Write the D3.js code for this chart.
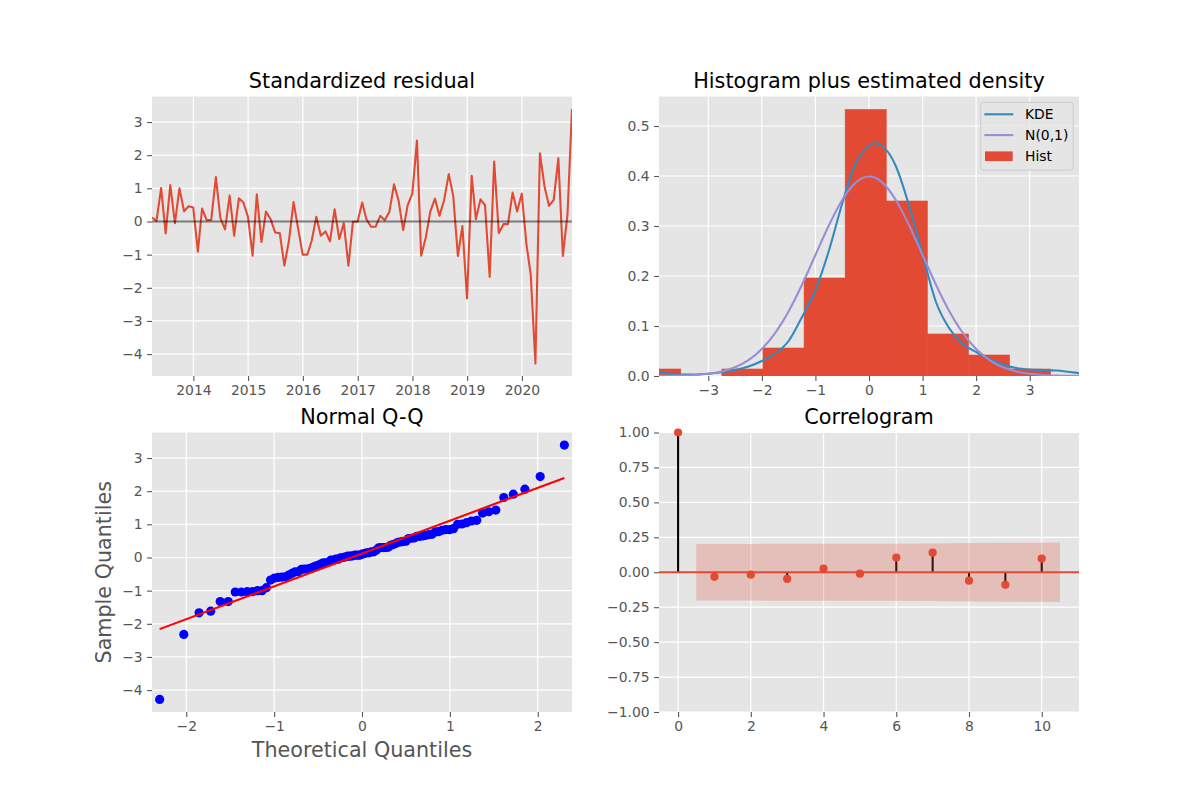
<!DOCTYPE html>
<html lang="en">
<head>
<meta charset="UTF-8" />
<title>Model diagnostics</title>
<script src="https://d3js.org/d3.v7.min.js"></script>
<style>
  body { margin: 0; background: #fff; }
  svg text { font-family: 'DejaVu Sans', 'Liberation Sans', sans-serif; }
  .tick text { fill: #555555; font-size: 13.9px; }
  .tick line { stroke: #555555; stroke-width: 1.1px; }
  .title { font-size: 20.8px; fill: #000; }
  .label { font-size: 20.7px; fill: #555555; }
  .legend text { font-size: 13.9px; fill: #000; }
</style>
</head>
<body>
<svg width="1200" height="800"></svg>
<script>
// standardized residuals, one per month (Mar 2013 .. Nov 2020)
const residFirstMonth = [2013, 2];
const residLastMonth = [2020, 10];
const resid = [
  0.12, 0.02, 1.01, -0.36, 1.10, -0.05, 1.00, 0.31, 0.46, 0.42,
  -0.91, 0.39, 0.04, 0.05, 1.34, 0.10, -0.24, 0.78, -0.43, 0.70,
  0.58, 0.14, -1.03, 0.82, -0.62, 0.30, 0.07, -0.33, -0.35, -1.33,
  -0.59, 0.59, -0.20, -1.00, -1.00, -0.58, 0.14, -0.43, -0.30, -0.60,
  0.37, -0.53, -0.05, -1.33, -0.01, 0.00, 0.57, 0.07, -0.16, -0.16,
  0.17, 0.04, 0.29, 1.12, 0.64, -0.26, 0.49, 0.84, 2.44, -1.03,
  -0.48, 0.30, 0.69, 0.17, 0.64, 1.43, 0.77, -1.04, -0.14, -2.32,
  1.38, 0.07, 0.67, 0.49, -1.67, 1.81, -0.35, -0.08, -0.08, 0.87,
  0.30, 0.84, -0.68, -1.62, -4.28, 2.06, 1.05, 0.47, 0.65, 1.91,
  -1.04, 0.22, 3.39
];
const yearTicks = [2014, 2015, 2016, 2017, 2018, 2019, 2020];
const residTicks = [-4, -3, -2, -1, 0, 1, 2, 3];

// histogram (density) and the two curves
const histEdges = [-4.28, -3.513, -2.746, -1.979, -1.212, -0.445, 0.322, 1.089, 1.856, 2.623, 3.39];
const histDensity = [0.014, 0, 0.014, 0.056, 0.196, 0.533, 0.350, 0.084, 0.042, 0.014];
const curveX = [-3.92, -3.75, -3.5, -3.25, -3, -2.75, -2.5, -2.25, -2, -1.75, -1.5, -1.25, -1, -0.75, -0.5, -0.25,
  0, 0.1, 0.25, 0.5, 0.75, 1, 1.25, 1.5, 1.75, 2, 2.25, 2.5, 2.75, 3, 3.25, 3.5, 3.75, 3.92];
const kdeY = [0.0073, 0.005, 0.003, 0.003, 0.0045, 0.0075, 0.012, 0.019, 0.030, 0.045, 0.070, 0.118, 0.172, 0.250, 0.345, 0.425,
  0.460, 0.466, 0.460, 0.420, 0.340, 0.243, 0.148, 0.095, 0.064, 0.048, 0.034, 0.023, 0.016, 0.013, 0.012, 0.011, 0.008, 0.006];
const normY = [0.0002, 0.0004, 0.0009, 0.0020, 0.0044, 0.0091, 0.0175, 0.0317, 0.0540, 0.0863, 0.1295, 0.1826, 0.2420, 0.3011, 0.3521, 0.3867,
  0.3989, 0.3970, 0.3867, 0.3521, 0.3011, 0.2420, 0.1826, 0.1295, 0.0863, 0.0540, 0.0317, 0.0175, 0.0091, 0.0044, 0.0020, 0.0009, 0.0004, 0.0002];
const histXTicks = [-3, -2, -1, 0, 1, 2, 3];
const histYTicks = [0, 0.1, 0.2, 0.3, 0.4, 0.5];
const legendLabels = ["KDE", "N(0,1)", "Hist"];

// Q-Q: theoretical quantiles, sample quantiles are the sorted residuals
const theoQ = [
  -2.303, -2.028, -1.854, -1.722, -1.614, -1.523, -1.443, -1.372, -1.306, -1.246,
  -1.190, -1.138, -1.088, -1.041, -0.996, -0.953, -0.912, -0.872, -0.834, -0.797,
  -0.761, -0.726, -0.691, -0.658, -0.625, -0.593, -0.561, -0.530, -0.500, -0.470,
  -0.441, -0.411, -0.383, -0.354, -0.326, -0.298, -0.270, -0.243, -0.215, -0.188,
  -0.161, -0.134, -0.107, -0.080, -0.053, -0.027, 0, 0.027, 0.053, 0.080,
  0.107, 0.134, 0.161, 0.188, 0.215, 0.243, 0.270, 0.298, 0.326, 0.354,
  0.383, 0.411, 0.441, 0.470, 0.500, 0.530, 0.561, 0.593, 0.625, 0.658,
  0.691, 0.726, 0.761, 0.797, 0.834, 0.872, 0.912, 0.953, 0.996, 1.041,
  1.088, 1.138, 1.190, 1.246, 1.306, 1.372, 1.443, 1.523, 1.614, 1.722,
  1.854, 2.028, 2.303
];
const qqLineX = [-2.303, 2.303];
const qqLineY = [-2.16, 2.40];
const qqXTicks = [-2, -1, 0, 1, 2];

// correlogram
const lags = [0, 1, 2, 3, 4, 5, 6, 7, 8, 9, 10];
const acf = [1.0, -0.033, -0.017, -0.048, 0.026, -0.010, 0.105, 0.140, -0.060, -0.090, 0.098];
const confHalf = [0.203, 0.203, 0.204, 0.204, 0.204, 0.204, 0.206, 0.210, 0.211, 0.213]; // lags 1..10
const acfXTicks = [0, 2, 4, 6, 8, 10];
const acfYTicks = [-1, -0.75, -0.5, -0.25, 0, 0.25, 0.5, 0.75, 1];

const C = { red: "#E24A33", blue: "#348ABD", purple: "#988ED5", bg: "#E5E5E5" };
const COL = [[152, 572], [659, 1079]];
const ROW = [[96.5, 376], [432.5, 712]];

const svg = d3.select("svg");
let clipId = 0;

function panel(col, row, x, y, xTicks, yTicks, xFmt, yFmt, title) {
  const [x0, x1] = COL[col], [y0, y1] = ROW[row];
  const g = svg.append("g");
  g.append("rect").attr("x", x0).attr("y", y0).attr("width", x1 - x0).attr("height", y1 - y0).attr("fill", C.bg);
  g.selectAll("line.vg").data(xTicks).join("line")
    .attr("x1", d => x(d)).attr("x2", d => x(d)).attr("y1", y0).attr("y2", y1)
    .attr("stroke", "#fff").attr("stroke-width", 1.2);
  g.selectAll("line.hg").data(yTicks).join("line")
    .attr("y1", d => y(d)).attr("y2", d => y(d)).attr("x1", x0).attr("x2", x1)
    .attr("stroke", "#fff").attr("stroke-width", 1.2);
  const xa = g.append("g").attr("transform", `translate(0,${y1})`)
    .call(d3.axisBottom(x).tickValues(xTicks).tickFormat(xFmt).tickSize(4.9).tickPadding(4.5));
  const ya = g.append("g").attr("transform", `translate(${x0},0)`)
    .call(d3.axisLeft(y).tickValues(yTicks).tickFormat(yFmt).tickSize(4.9).tickPadding(4.5));
  xa.select(".domain").remove();
  ya.select(".domain").remove();
  g.append("text").attr("class", "title").attr("x", (x0 + x1) / 2).attr("y", y0 - 8.5)
    .attr("text-anchor", "middle").text(title);
  const id = "clip" + (clipId++);
  g.append("clipPath").attr("id", id).append("rect")
    .attr("x", x0).attr("y", y0).attr("width", x1 - x0).attr("height", y1 - y0);
  return g.append("g").attr("clip-path", `url(#${id})`);
}

// ---- Standardized residual
const months = d3.utcMonth.range(new Date(Date.UTC(...residFirstMonth, 1)), new Date(Date.UTC(residLastMonth[0], residLastMonth[1] + 1, 1)));
const dates = months.map(m => d3.utcDay.offset(d3.utcMonth.offset(m, 1), -1));
const xr = d3.scaleUtc().domain(d3.extent(dates)).range(COL[0]);
const yr = d3.scaleLinear().domain([-4.66, 3.77]).range([ROW[0][1], ROW[0][0]]);
const yearDates = yearTicks.map(yv => new Date(Date.UTC(yv, 0, 1)));
const p1 = panel(0, 0, xr, yr, yearDates, residTicks, d3.utcFormat("%Y"), d3.format("d"), "Standardized residual");
p1.append("path").datum(resid)
  .attr("fill", "none").attr("stroke", C.red).attr("stroke-width", 2.08).attr("stroke-linejoin", "round")
  .attr("d", d3.line().x((d, i) => xr(dates[i])).y(d => yr(d)));
p1.append("line")
  .attr("x1", xr(dates[0])).attr("x2", xr(dates[dates.length - 1]))
  .attr("y1", yr(0)).attr("y2", yr(0))
  .attr("stroke", "#000").attr("stroke-opacity", 0.5).attr("stroke-width", 2.08);

// ---- Histogram plus estimated density
const xh = d3.scaleLinear().domain([-3.92, 3.92]).range(COL[1]);
const yh = d3.scaleLinear().domain([0, 0.559]).range([ROW[0][1], ROW[0][0]]);
const p2 = panel(1, 0, xh, yh, histXTicks, histYTicks, d3.format("d"), d3.format(".1f"), "Histogram plus estimated density");
p2.selectAll("rect.bar").data(histDensity).join("rect")
  .attr("x", (d, i) => xh(histEdges[i]))
  .attr("width", (d, i) => xh(histEdges[i + 1]) - xh(histEdges[i]))
  .attr("y", d => yh(d)).attr("height", d => yh(0) - yh(d))
  .attr("fill", C.red).attr("stroke", C.red).attr("stroke-width", 0.6);
const curve = d3.line().curve(d3.curveMonotoneX).x((d, i) => xh(curveX[i])).y(d => yh(d));
p2.append("path").datum(kdeY).attr("fill", "none").attr("stroke", C.blue).attr("stroke-width", 2.08).attr("d", curve);
p2.append("path").datum(normY).attr("fill", "none").attr("stroke", C.purple).attr("stroke-width", 2.08).attr("d", curve);

const lg = svg.append("g").attr("class", "legend").attr("transform", `translate(${COL[1][1] - 98.3},${ROW[0][0] + 5.8})`);
lg.append("rect").attr("width", 92.6).attr("height", 67.7).attr("rx", 3)
  .attr("fill", C.bg).attr("fill-opacity", 0.8).attr("stroke", "#CCCCCC").attr("stroke-width", 1);
const lgColors = [C.blue, C.purple, C.red];
legendLabels.forEach((lab, i) => {
  const cy = 12 + i * 20.8;
  if (i < 2) {
    lg.append("line").attr("x1", 3.6).attr("x2", 32.6).attr("y1", cy).attr("y2", cy)
      .attr("stroke", lgColors[i]).attr("stroke-width", 2.08);
  } else {
    lg.append("rect").attr("x", 4.3).attr("y", cy - 4.5).attr("width", 27.7).attr("height", 9.7).attr("fill", lgColors[i]);
  }
  lg.append("text").attr("x", 44.3).attr("y", cy + 5).text(lab);
});

// ---- Normal Q-Q
const xq = d3.scaleLinear().domain([-2.39, 2.39]).range(COL[0]);
const yq = d3.scaleLinear().domain([-4.66, 3.77]).range([ROW[1][1], ROW[1][0]]);
const p3 = panel(0, 1, xq, yq, qqXTicks, residTicks, d3.format("d"), d3.format("d"), "Normal Q-Q");
const sampleQ = d3.sort(resid);
p3.selectAll("circle").data(sampleQ).join("circle")
  .attr("cx", (d, i) => xq(theoQ[i])).attr("cy", d => yq(d)).attr("r", 4.6)
  .attr("fill", "#0000FF");
p3.append("line")
  .attr("x1", xq(qqLineX[0])).attr("x2", xq(qqLineX[1]))
  .attr("y1", yq(qqLineY[0])).attr("y2", yq(qqLineY[1]))
  .attr("stroke", "#FF0000").attr("stroke-width", 2.08);
svg.append("text").attr("class", "label").attr("x", d3.mean(COL[0])).attr("y", 757)
  .attr("text-anchor", "middle").text("Theoretical Quantiles");
svg.append("text").attr("class", "label")
  .attr("transform", `translate(111,${d3.mean(ROW[1])}) rotate(-90)`)
  .attr("text-anchor", "middle").text("Sample Quantiles");

// ---- Correlogram
const xc = d3.scaleLinear().domain([-0.525, 11.025]).range(COL[1]);
const yc = d3.scaleLinear().domain([-1, 1]).range([ROW[1][1], ROW[1][0]]);
const p4 = panel(1, 1, xc, yc, acfXTicks, acfYTicks, d3.format("d"), d3.format(".2f"), "Correlogram");
p4.selectAll("line.stem").data(acf).join("line")
  .attr("x1", (d, i) => xc(lags[i])).attr("x2", (d, i) => xc(lags[i]))
  .attr("y1", yc(0)).attr("y2", d => yc(d))
  .attr("stroke", "#000").attr("stroke-width", 2.08);
p4.append("line").attr("x1", COL[1][0]).attr("x2", COL[1][1]).attr("y1", yc(0)).attr("y2", yc(0))
  .attr("stroke", C.red).attr("stroke-width", 2.08);
svg.append("g").selectAll("circle").data(acf).join("circle")
  .attr("cx", (d, i) => xc(lags[i])).attr("cy", d => yc(d)).attr("r", 4.1)
  .attr("fill", C.red);
const bandLags = lags.slice(1).map((l, i, a) => i === 0 ? l - 0.5 : i === a.length - 1 ? l + 0.5 : l);
p4.append("path").datum(confHalf)
  .attr("fill", C.red).attr("fill-opacity", 0.25)
  .attr("d", d3.area().x((d, i) => xc(bandLags[i])).y0(d => yc(-d)).y1(d => yc(d)));
</script>
</body>
</html>
